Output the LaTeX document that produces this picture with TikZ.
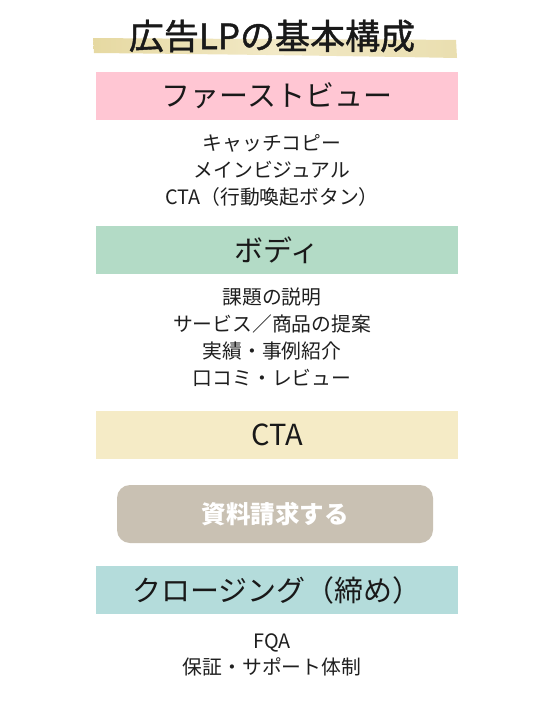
\documentclass[tikz,border=0pt]{standalone}
\usepackage{fontspec}
\setmainfont{Noto Sans CJK JP}
\newfontfamily\titlefont{Noto Sans CJK JP}[FakeBold=1.2]
\begin{document}
\begin{tikzpicture}[x=1pt,y=-1pt,
  band/.style={minimum width=362pt, minimum height=48pt, inner sep=0pt, text=black!90,
    font=\fontsize{29}{32}\selectfont},
  items/.style={align=center, inner sep=0pt, text=black!88,
    font=\fontsize{19.8}{27}\selectfont},
  cta/.style={rounded corners=13pt, minimum width=316pt, minimum height=58pt, inner sep=0pt,
    fill=btn, text=white, font=\fontsize{24.5}{28}\selectfont\bfseries}
]
\definecolor{pinkb}{HTML}{FFC6D3}
\definecolor{greenb}{HTML}{B3DBC6}
\definecolor{yellowb}{HTML}{F5EBC6}
\definecolor{tealb}{HTML}{B4DCDB}
\definecolor{btn}{HTML}{C9C1B3}
\definecolor{brushA}{HTML}{E6D9A2}
\definecolor{brushB}{HTML}{F2E9C6}
\useasboundingbox (0,0) rectangle (540,720);
\fill[white] (0,0) rectangle (540,720);
% title brush stroke
\shade[left color=brushA, right color=brushA!85!white, middle color=brushB]
  (93,38) .. controls (200,39) and (350,39) .. (456,40)
  -- (457,58) .. controls (350,56) and (200,54) .. (94,53) -- cycle;
\node[inner sep=0pt, font=\fontsize{35}{38}\titlefont, text=black!90] (title) at (272,36) {広告LPの基本構成};
% sections
\node[band, fill=pinkb] (fv) at (277,96) {ファーストビュー};
\node[items] (fvi) at (272,170) {キャッチコピー\\メインビジュアル\\CTA（行動喚起ボタン）};
\node[band, fill=greenb] (body) at (277,250) {ボディ};
\node[items] (bodyi) at (272,337.5) {課題の説明\\サービス／商品の提案\\実績・事例紹介\\口コミ・レビュー};
\node[band, fill=yellowb] (ctab) at (277,435) {CTA};
\node[cta] (btnode) at (275,514) {資料請求する};
\node[band, fill=tealb] (close) at (277,590) {クロージング（締め）};
\node[items, font=\fontsize{19.8}{26}\selectfont] (closei) at (272,655) {FQA\\保証・サポート体制};
\end{tikzpicture}
\end{document}
